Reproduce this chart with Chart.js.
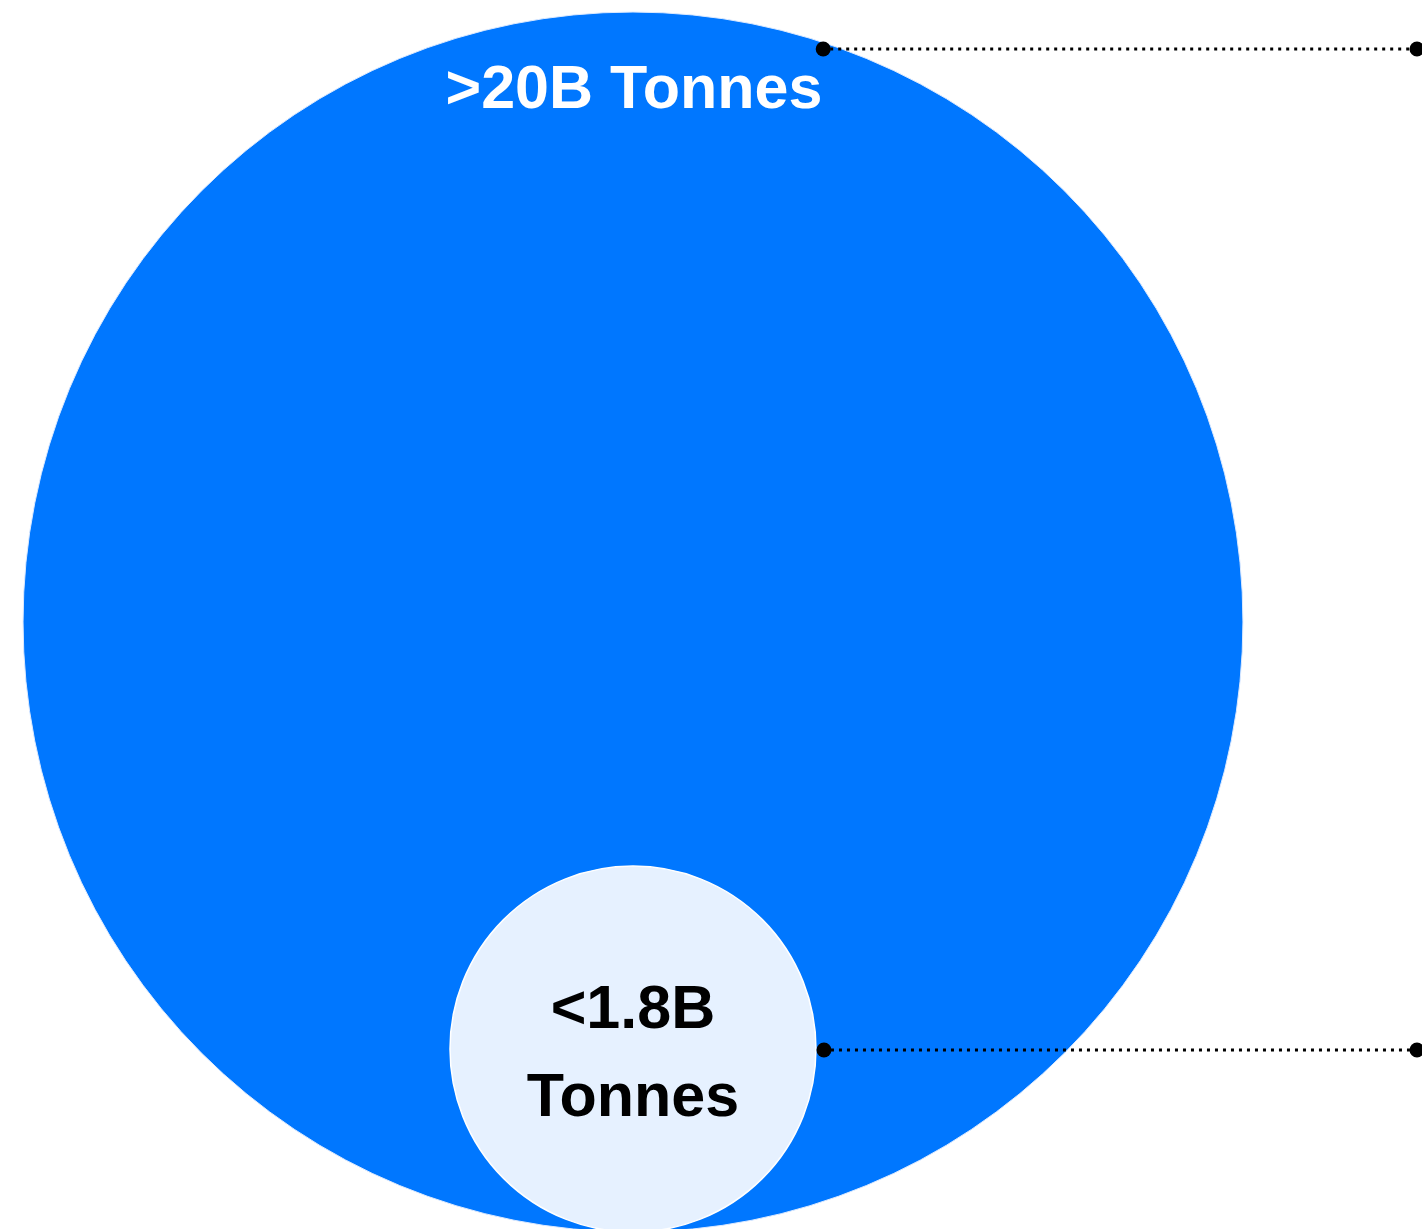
<!DOCTYPE html>
<html>
<head>
<meta charset="utf-8">
<script src="https://cdn.jsdelivr.net/npm/chart.js@4.4.1/dist/chart.umd.min.js"></script>
<style>
  html, body { margin: 0; padding: 0; background: #ffffff; }
  #wrap { width: 1422px; height: 1229px; }
</style>
</head>
<body>
<div id="wrap"><canvas id="tonnesChart" width="1422" height="1229"></canvas></div>
<script>
// data
const categories = ['>20B Tonnes', '<1.8B Tonnes'];
const labelLines = [['>20B Tonnes'], ['<1.8B', 'Tonnes']];
const valuesBillionTonnes = [20, 1.8];
const fillColors = ['#0077ff', '#e6f1ff'];
const borderColors = ['#dbe9ff', '#ffffff'];
const textColors = ['#ffffff', '#000000'];

// axis window (hidden axes), equal scale on x and y
const X_MIN = -4.641, X_MAX = 5.785;
const Y_MIN = 0.022, Y_MAX = 9.032;

// bubble area is proportional to the value, circles sit on a common bottom line
const radiusUnits = valuesBillionTonnes.map(v => Math.sqrt(v));

// radius option is resolved while parsing, before the scales are laid out,
// so convert with the canvas width (chart area == canvas here)
function pxRadius(chart, i) {
    return radiusUnits[i] * chart.width / (X_MAX - X_MIN);
}

const labelPlugin = {
    id: 'bubbleLabels',
    afterDatasetsDraw(chart) {
        const ctx = chart.ctx;
        const big = chart.getDatasetMeta(0).data[0];
        const small = chart.getDatasetMeta(1).data[0];
        const rBig = pxRadius(chart, 0);
        const rSmall = pxRadius(chart, 1);

        ctx.save();
        ctx.font = 'bold 61px "Liberation Sans", Arial, sans-serif';
        ctx.textAlign = 'center';
        ctx.textBaseline = 'alphabetic';

        // label at the top of the big circle
        ctx.fillStyle = textColors[0];
        ctx.fillText(labelLines[0][0], big.x + 1, big.y - rBig + 96);

        // two line label centred in the small circle
        ctx.fillStyle = textColors[1];
        ctx.fillText(labelLines[1][0], small.x, small.y - 21);
        ctx.fillText(labelLines[1][1], small.x, small.y + 67);

        // leader lines to the right edge
        const endX = chart.width - 5;
        const topY = big.y - rBig + 37;
        const dy = big.y - topY;
        const topX = big.x + Math.sqrt(rBig * rBig - dy * dy) - 19;
        const leaders = [
            [topX, topY],
            [small.x + rSmall + 8, small.y + 1]
        ];

        leaders.forEach(([x, y]) => {
            ctx.beginPath();
            ctx.setLineDash([3, 5]);
            ctx.lineWidth = 3;
            ctx.strokeStyle = '#000000';
            ctx.moveTo(x + 7, y);
            ctx.lineTo(endX, y);
            ctx.stroke();
            ctx.setLineDash([]);
            ctx.fillStyle = '#000000';
            [x, endX].forEach(px => {
                ctx.beginPath();
                ctx.arc(px, y, 7.5, 0, Math.PI * 2);
                ctx.fill();
            });
        });
        ctx.restore();
    }
};

const canvas = document.getElementById('tonnesChart');
new Chart(canvas.getContext('2d'), {
    type: 'bubble',
    data: {
        datasets: categories.map((name, i) => ({
            label: name,
            data: [{ x: 0, y: radiusUnits[i] }],
            backgroundColor: fillColors[i],
            borderColor: borderColors[i],
            borderWidth: i === 0 ? 1 : 1.5,
            radius: (c) => pxRadius(c.chart, c.datasetIndex),
            order: categories.length - i, // big one underneath
            clip: false
        }))
    },
    options: {
        responsive: false,
        animation: false,
        events: [],
        layout: { padding: 0, autoPadding: false },
        plugins: {
            legend: { display: false },
            tooltip: { enabled: false }
        },
        scales: {
            x: { type: 'linear', display: false, min: X_MIN, max: X_MAX },
            y: { type: 'linear', display: false, min: Y_MIN, max: Y_MAX }
        }
    },
    plugins: [labelPlugin]
});
</script>
</body>
</html>
